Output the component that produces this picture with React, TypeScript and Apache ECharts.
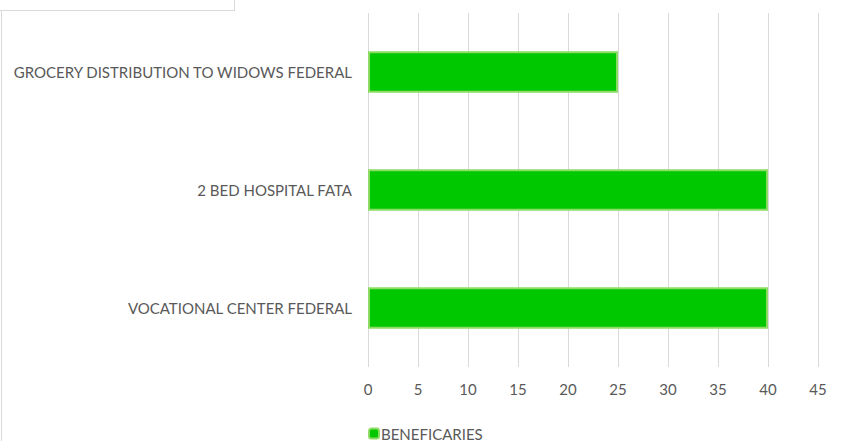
import React, { useEffect, useRef } from "react";
import * as echarts from "echarts";

const categories = [
  "VOCATIONAL CENTER FEDERAL",
  "2 BED HOSPITAL FATA",
  "GROCERY DISTRIBUTION TO WIDOWS FEDERAL",
];
const beneficiaries = [40, 40, 25];
const seriesName = "BENEFICARIES";

export default function App() {
  const ref = useRef<HTMLDivElement>(null);
  useEffect(() => {
    if (!ref.current) return;
    const chart = echarts.init(ref.current, null, { renderer: "svg" });
    const font = "Lato, 'Open Sans', sans-serif";
    chart.setOption({
      animation: false,
      backgroundColor: "#ffffff",
      grid: { left: 368, right: 23, top: 13, bottom: 74, containLabel: false },
      xAxis: {
        type: "value",
        min: 0,
        max: 45,
        interval: 5,
        axisLine: { show: false },
        axisTick: { show: false },
        splitLine: { show: true, lineStyle: { color: "#d9d9d9", width: 1 } },
        axisLabel: { color: "#595959", fontSize: 15, fontFamily: font, margin: 14 },
      },
      yAxis: {
        type: "category",
        data: categories,
        axisLine: { show: false },
        axisTick: { show: false },
        axisLabel: { color: "#595959", fontSize: 15, fontFamily: font, margin: 16 },
      },
      legend: {
        data: [seriesName],
        left: 368,
        top: 426,
        itemWidth: 10,
        itemHeight: 10,
        itemGap: 4,
        textStyle: { color: "#595959", fontSize: 15, fontFamily: font, padding: [0, 0, 0, -3] },
        padding: 0,
      },
      series: [
        {
          name: seriesName,
          type: "bar",
          data: beneficiaries,
          barWidth: "35%",
          itemStyle: { color: "#00c800", borderColor: "#8cdc64", borderWidth: 2 },
        },
      ],
      graphic: [
        { type: "line", shape: { x1: 0, y1: 10.5, x2: 235, y2: 10.5 }, style: { stroke: "#d9d9d9", lineWidth: 1 } },
        { type: "line", shape: { x1: 234.5, y1: 0, x2: 234.5, y2: 11 }, style: { stroke: "#d9d9d9", lineWidth: 1 } },
        { type: "line", shape: { x1: 1.5, y1: 11, x2: 1.5, y2: 441 }, style: { stroke: "#d9d9d9", lineWidth: 1 } },
      ],
    });
    return () => chart.dispose();
  }, []);
  return <div ref={ref} style={{ width: 841, height: 441, position: "absolute", left: 0, top: 0 }} />;
}
